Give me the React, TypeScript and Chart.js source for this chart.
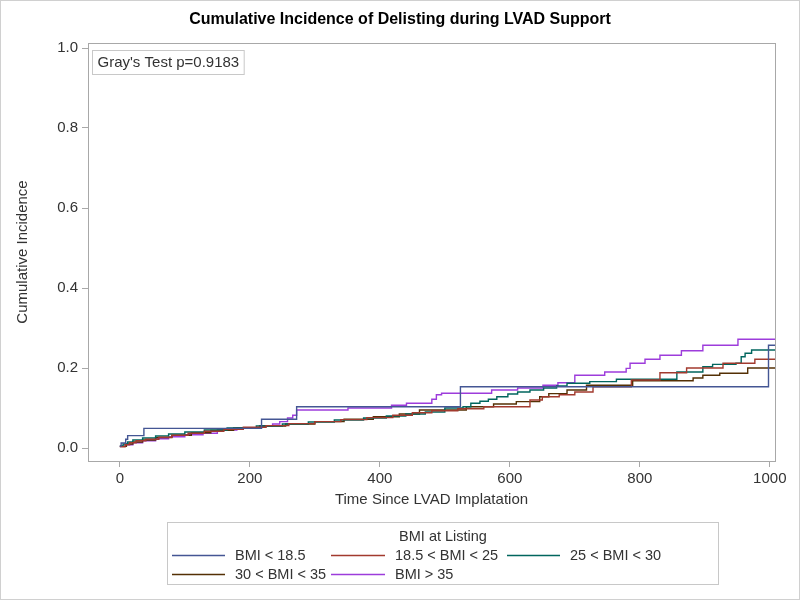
import React, { useEffect, useRef } from "react";
import { Chart, registerables } from "chart.js";

Chart.register(...registerables);

const chartTitle = "Cumulative Incidence of Delisting during LVAD Support";
const xAxisTitle = "Time Since LVAD Implatation";
const yAxisTitle = "Cumulative Incidence";
const testLabel = "Gray's Test p=0.9183";
const legendTitle = "BMI at Listing";

const xTicks = [0, 200, 400, 600, 800, 1000];
const yTicks = [0, 0.2, 0.4, 0.6, 0.8, 1.0];

const seriesNames = ["BMI < 18.5", "18.5 < BMI < 25", "25 < BMI < 30", "30 < BMI < 35", "BMI > 35"];
const seriesColors = ["#445694", "#A23A2E", "#01665E", "#543005", "#9D3CDB"];

const bmiUnder185Days = [0, 2, 9, 12, 37, 218, 272, 524, 998, 1008];
const bmiUnder185Inc = [0.005, 0.0125, 0.022, 0.031, 0.049, 0.072, 0.103, 0.153, 0.257, 0.257];

const bmi185to25Days = [0, 8, 15, 25, 40, 60, 80, 105, 130, 160, 190, 225, 260, 300, 340, 380, 420, 450, 480, 520, 560, 631, 650, 676, 700, 728, 787, 831, 872, 928, 977, 1008];
const bmi185to25Inc = [0.003, 0.008, 0.013, 0.018, 0.022, 0.027, 0.032, 0.037, 0.042, 0.047, 0.052, 0.056, 0.061, 0.066, 0.071, 0.076, 0.082, 0.088, 0.093, 0.098, 0.103, 0.12, 0.128, 0.133, 0.14, 0.153, 0.17, 0.188, 0.2, 0.212, 0.222, 0.222];

const bmi25to30Days = [0, 5, 12, 20, 35, 55, 75, 100, 130, 165, 210, 250, 290, 330, 375, 410, 440, 470, 500, 528, 540, 554, 567, 580, 597, 612, 631, 652, 672, 688, 723, 764, 857, 897, 912, 948, 956, 962, 972, 1008];
const bmi25to30Inc = [0.005, 0.01, 0.015, 0.02, 0.025, 0.03, 0.035, 0.04, 0.045, 0.05, 0.055, 0.06, 0.065, 0.07, 0.075, 0.08, 0.085, 0.09, 0.1, 0.103, 0.112, 0.117, 0.122, 0.128, 0.135, 0.14, 0.145, 0.15, 0.155, 0.162, 0.166, 0.172, 0.19, 0.203, 0.209, 0.212, 0.228, 0.237, 0.245, 0.245];

const bmi30to35Days = [0, 10, 20, 35, 55, 80, 110, 140, 175, 215, 255, 300, 345, 390, 430, 461, 533, 575, 610, 646, 660, 688, 718, 789, 882, 897, 923, 966, 1008];
const bmi30to35Inc = [0.004, 0.01, 0.015, 0.02, 0.026, 0.032, 0.038, 0.044, 0.05, 0.055, 0.06, 0.066, 0.072, 0.078, 0.085, 0.095, 0.103, 0.11, 0.116, 0.128, 0.136, 0.145, 0.157, 0.168, 0.175, 0.182, 0.187, 0.2, 0.2];

const bmiOver35Days = [0, 10, 20, 35, 55, 75, 100, 128, 150, 180, 215, 235, 246, 258, 266, 272, 351, 418, 441, 480, 487, 495, 572, 612, 651, 674, 700, 746, 779, 785, 808, 831, 864, 897, 951, 1008];
const bmiOver35Inc = [0.004, 0.008, 0.013, 0.018, 0.023, 0.028, 0.033, 0.037, 0.045, 0.05, 0.055, 0.06, 0.066, 0.075, 0.082, 0.095, 0.1, 0.107, 0.112, 0.122, 0.133, 0.137, 0.145, 0.15, 0.157, 0.163, 0.182, 0.19, 0.199, 0.212, 0.222, 0.232, 0.243, 0.257, 0.272, 0.272];

const seriesDays = [bmiUnder185Days, bmi185to25Days, bmi25to30Days, bmi30to35Days, bmiOver35Days];
const seriesInc = [bmiUnder185Inc, bmi185to25Inc, bmi25to30Inc, bmi30to35Inc, bmiOver35Inc];

const FONT = "'Liberation Sans', Arial, sans-serif";
const TEXT = "#333333";
const FRAME = "#a8a8a8";

const decorPlugin = {
  id: "decor",
  afterDraw(chart: any) {
    const ctx = chart.ctx as CanvasRenderingContext2D;
    const { left, top, right, bottom } = chart.chartArea;
    ctx.save();
    ctx.strokeStyle = FRAME;
    ctx.lineWidth = 1;
    ctx.strokeRect(Math.round(left) + 0.5, Math.round(top) + 0.5, Math.round(right - left), Math.round(bottom - top));
    ctx.strokeStyle = "#d0d0d0";
    ctx.strokeRect(0.5, 0.5, chart.width - 1, chart.height - 1);
    ctx.fillStyle = "#000";
    ctx.font = `bold 16px ${FONT}`;
    ctx.textAlign = "center";
    ctx.textBaseline = "middle";
    ctx.fillText(chartTitle, 400, 20);
    ctx.font = `15px ${FONT}`;
    ctx.textAlign = "left";
    const tw = ctx.measureText(testLabel).width;
    const bx = Math.round(left) + 4.5;
    const by = Math.round(top) + 7.5;
    ctx.strokeStyle = "#c8c8c8";
    ctx.strokeRect(bx, by, tw + 10, 24);
    ctx.fillStyle = TEXT;
    ctx.fillText(testLabel, bx + 5, by + 12.5);
    ctx.font = `14.5px ${FONT}`;
    ctx.strokeStyle = "#c8c8c8";
    ctx.strokeRect(167.5, 522.5, 551, 62);
    ctx.textAlign = "center";
    ctx.fillStyle = TEXT;
    ctx.fillText(legendTitle, 443, 537);
    const cols = [
      { l0: 172, l1: 225, tx: 235 },
      { l0: 331, l1: 385, tx: 395 },
      { l0: 507, l1: 560, tx: 570 },
    ];
    const rows = [555, 574];
    seriesNames.forEach((name, i) => {
      const c = cols[i % 3];
      const y = rows[Math.floor(i / 3)];
      ctx.strokeStyle = seriesColors[i];
      ctx.lineWidth = 1.3;
      ctx.beginPath();
      ctx.moveTo(c.l0, y + 0.5);
      ctx.lineTo(c.l1, y + 0.5);
      ctx.stroke();
      ctx.textAlign = "left";
      ctx.fillStyle = TEXT;
      ctx.fillText(name, c.tx, y + 1);
    });
    ctx.restore();
  },
};

export default function App() {
  const canvasRef = useRef<HTMLCanvasElement | null>(null);

  useEffect(() => {
    document.body.style.margin = "0";
    const canvas = canvasRef.current;
    if (!canvas) return;
    const datasets = seriesNames.map((name, i) => ({
      label: name,
      data: seriesDays[i].map((d, j) => ({ x: d, y: seriesInc[i][j] })),
      borderColor: seriesColors[i],
      backgroundColor: seriesColors[i],
      borderWidth: 1.4,
      pointRadius: 0,
      stepped: true as const,
      fill: false,
    }));
    const chart = new Chart(canvas, {
      type: "line",
      data: { datasets },
      options: {
        responsive: false,
        animation: false,
        events: [],
        layout: { padding: { top: 43, right: 25, bottom: 91, left: 0 } },
        plugins: {
          legend: { display: false },
          title: { display: false },
          tooltip: { enabled: false },
        },
        scales: {
          x: {
            type: "linear",
            min: -49,
            max: 1008,
            afterBuildTicks: (s: any) => {
              s.ticks = xTicks.map((v) => ({ value: v }));
            },
            afterFit: (s: any) => {
              s.height = 48;
            },
            border: { display: false },
            grid: { drawOnChartArea: false, drawTicks: true, tickLength: 6, color: FRAME },
            ticks: { font: { family: FONT, size: 15 }, color: TEXT, padding: 3, maxRotation: 0, callback: (v: any) => String(v) },
            title: { display: true, text: xAxisTitle, font: { family: FONT, size: 15 }, color: TEXT, padding: { top: 2, bottom: 0 } },
          },
          y: {
            type: "linear",
            min: -0.0325,
            max: 1.0125,
            afterBuildTicks: (s: any) => {
              s.ticks = yTicks.map((v) => ({ value: v }));
            },
            afterFit: (s: any) => {
              s.width = 88;
            },
            border: { display: false },
            grid: { drawOnChartArea: false, drawTicks: true, tickLength: 6, color: FRAME },
            ticks: { font: { family: FONT, size: 15 }, color: TEXT, padding: 4, callback: (v: any) => Number(v).toFixed(1) },
            title: { display: true, text: yAxisTitle, font: { family: FONT, size: 15 }, color: TEXT, padding: { top: 14, bottom: 0 } },
          },
        },
      },
      plugins: [decorPlugin],
    });
    return () => chart.destroy();
  }, []);

  return (
    <div style={{ width: 800, height: 600, position: "relative" }}>
      <canvas ref={canvasRef} width={800} height={600} style={{ display: "block" }} />
    </div>
  );
}
